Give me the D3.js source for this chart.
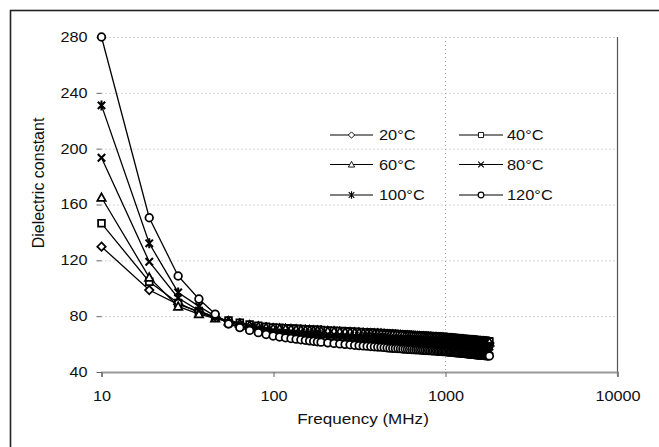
<!DOCTYPE html>
<html>
<head>
<meta charset="utf-8">
<script src="https://d3js.org/d3.v7.min.js"></script>
<style>
  body { margin: 0; background: #fff; }
  svg text { font-family: Arial, "Liberation Sans", sans-serif; fill: #111; }
</style>
</head>
<body>
<svg id="chart" width="659" height="447"></svg>
<script>
// frequency grid (MHz)
const freq = [10, 18.95, 27.9, 36.85, 45.8, 54.75, 63.7, 72.65, 81.6, 90.55,
  99.5, 108.45, 117.4, 126.35, 135.3, 144.25, 153.2, 162.15, 171.1, 180.05, 189,
  206.9, 224.8, 242.7, 260.6, 278.5, 296.4, 314.3, 332.2, 350.1, 368, 385.9, 403.8, 421.7, 439.6, 457.5,
  475.4, 493.3, 511.2, 529.1, 547, 564.9, 582.8, 600.7, 618.6, 636.5, 654.4, 672.3, 690.2, 708.1, 726,
  743.9, 761.8, 779.7, 797.6, 815.5, 833.4, 851.3, 869.2, 887.1, 905,
  922.9, 940.8, 958.7, 976.6, 994.5, 1012.4, 1030.3, 1048.2, 1066.1, 1084, 1101.9, 1119.8, 1137.7,
  1155.6, 1173.5, 1191.4, 1209.3, 1227.2, 1245.1, 1263, 1280.9, 1298.8, 1316.7, 1334.6, 1352.5,
  1370.4, 1388.3, 1406.2, 1424.1, 1442, 1459.9, 1477.8, 1495.7, 1513.6, 1531.5, 1549.4, 1567.3,
  1585.2, 1603.1, 1621, 1638.9, 1656.8, 1674.7, 1692.6, 1710.5, 1728.4, 1746.3, 1764.2, 1782.1, 1800];

const t20 = [129.8, 98.7, 88.5, 83.5, 79.5, 76.5, 74.8, 73.6, 72.7, 72.0,
  71.4, 71.2, 71.0, 70.8, 70.6, 70.4, 70.2, 70.1, 69.9, 69.8, 69.7,
  69.2, 69.0, 68.8, 68.6, 68.4, 68.2, 68.1, 67.9, 67.8, 67.6, 67.5, 67.4, 67.3, 67.1, 67.0,
  66.6, 66.5, 66.4, 66.3, 66.2, 66.0, 65.9, 65.8, 65.7, 65.6, 65.5, 65.4, 65.4, 65.3, 65.2,
  65.1, 65.0, 64.9, 64.9, 64.8, 64.7, 64.6, 64.6, 64.5, 64.4,
  64.1, 64.1, 64.0, 64.0, 63.9, 63.8, 63.7, 63.6, 63.5, 63.5, 63.4, 63.3, 63.2,
  63.1, 63.0, 63.0, 62.9, 62.8, 62.7, 62.7, 62.6, 62.5, 62.5, 62.4, 62.3,
  62.1, 62.0, 61.9, 61.9, 61.8, 61.7, 61.7, 61.6, 61.5, 61.5, 61.4, 61.4,
  61.3, 61.3, 61.2, 61.1, 61.1, 61.0, 61.0, 60.9, 60.9, 60.8, 60.8, 60.7, 60.7];

const t40 = [146.5, 104.7, 89.5, 82.5, 79.0, 76.8, 75.2, 74.0, 73.1, 72.4,
  71.8, 71.6, 71.4, 71.2, 71.0, 70.8, 70.6, 70.5, 70.3, 70.2, 70.1,
  69.8, 69.6, 69.4, 69.2, 69.0, 68.8, 68.7, 68.5, 68.4, 68.2, 68.1, 68.0, 67.9, 67.7, 67.6,
  67.4, 67.3, 67.2, 67.1, 67.0, 66.8, 66.7, 66.6, 66.5, 66.4, 66.3, 66.2, 66.2, 66.1, 66.0,
  65.9, 65.8, 65.7, 65.7, 65.6, 65.5, 65.4, 65.4, 65.3, 65.2,
  65.1, 65.1, 65.0, 65.0, 64.9, 64.8, 64.7, 64.6, 64.5, 64.5, 64.4, 64.3, 64.2,
  64.1, 64.0, 64.0, 63.9, 63.8, 63.7, 63.7, 63.6, 63.5, 63.5, 63.4, 63.3,
  63.3, 63.2, 63.1, 63.1, 63.0, 62.9, 62.9, 62.8, 62.7, 62.7, 62.6, 62.6,
  62.5, 62.5, 62.4, 62.3, 62.3, 62.2, 62.2, 62.1, 62.1, 62.0, 62.0, 61.9, 61.9];

const t60 = [165.0, 107.8, 87.0, 81.5, 78.5, 76.3, 74.7, 73.5, 72.6, 71.9,
  71.3, 71.1, 70.9, 70.7, 70.5, 70.3, 70.1, 70.0, 69.8, 69.7, 69.6,
  69.3, 69.1, 68.9, 68.7, 68.5, 68.3, 68.2, 68.0, 67.9, 67.7, 67.6, 67.5, 67.4, 67.2, 67.1,
  66.9, 66.8, 66.7, 66.6, 66.5, 66.3, 66.2, 66.1, 66.0, 65.9, 65.8, 65.7, 65.7, 65.6, 65.5,
  65.4, 65.3, 65.2, 65.2, 65.1, 65.0, 64.9, 64.9, 64.8, 64.7,
  64.6, 64.6, 64.5, 64.5, 64.4, 64.3, 64.2, 64.1, 64.0, 64.0, 63.9, 63.8, 63.7,
  63.6, 63.5, 63.5, 63.4, 63.3, 63.2, 63.2, 63.1, 63.0, 63.0, 62.9, 62.8,
  62.8, 62.7, 62.6, 62.6, 62.5, 62.4, 62.4, 62.3, 62.2, 62.2, 62.1, 62.1,
  62.0, 62.0, 61.9, 61.8, 61.8, 61.7, 61.7, 61.6, 61.6, 61.5, 61.5, 61.4, 61.4];

const t80 = [193.5, 119.0, 93.0, 84.0, 79.0, 75.5, 73.6, 72.2, 71.1, 70.2,
  69.5, 69.3, 69.0, 68.8, 68.6, 68.3, 68.1, 68.0, 67.7, 67.6, 67.5,
  67.0, 66.8, 66.6, 66.4, 66.2, 66.0, 65.9, 65.7, 65.6, 65.4, 65.3, 65.2, 65.1, 64.9, 64.8,
  64.3, 64.2, 64.1, 64.0, 63.9, 63.7, 63.6, 63.5, 63.4, 63.3, 63.2, 63.1, 63.1, 63.0, 62.9,
  62.8, 62.7, 62.6, 62.6, 62.5, 62.4, 62.3, 62.3, 62.2, 62.1,
  61.7, 61.7, 61.6, 61.6, 61.5, 61.4, 61.3, 61.2, 61.1, 61.1, 61.0, 60.9, 60.8,
  60.7, 60.6, 60.6, 60.5, 60.4, 60.3, 60.3, 60.2, 60.1, 60.1, 60.0, 59.9,
  59.7, 59.6, 59.5, 59.5, 59.4, 59.3, 59.3, 59.2, 59.1, 59.1, 59.0, 59.0,
  58.9, 58.9, 58.8, 58.7, 58.7, 58.6, 58.6, 58.5, 58.5, 58.4, 58.4, 58.3, 58.3];

const t100 = [231.0, 132.2, 97.0, 87.0, 80.0, 74.8, 72.6, 71.0, 69.7, 68.7,
  67.8, 67.5, 67.2, 66.9, 66.7, 66.4, 66.1, 66.0, 65.7, 65.6, 65.4,
  64.6, 64.4, 64.2, 64.0, 63.8, 63.6, 63.5, 63.3, 63.2, 63.0, 62.9, 62.8, 62.7, 62.5, 62.4,
  61.7, 61.6, 61.5, 61.4, 61.3, 61.1, 61.0, 60.9, 60.8, 60.7, 60.6, 60.5, 60.5, 60.4, 60.3,
  60.2, 60.1, 60.0, 60.0, 59.9, 59.8, 59.7, 59.7, 59.6, 59.5,
  59.1, 59.1, 59.0, 59.0, 58.9, 58.8, 58.7, 58.6, 58.5, 58.5, 58.4, 58.3, 58.2,
  58.1, 58.0, 58.0, 57.9, 57.8, 57.7, 57.7, 57.6, 57.5, 57.5, 57.4, 57.3,
  57.0, 56.9, 56.8, 56.8, 56.7, 56.6, 56.6, 56.5, 56.4, 56.4, 56.3, 56.3,
  56.2, 56.2, 56.1, 56.0, 56.0, 55.9, 55.9, 55.8, 55.8, 55.7, 55.7, 55.6, 55.6];

const t120 = [280.0, 150.5, 108.8, 92.3, 81.5, 74.5, 71.8, 69.8, 68.2, 66.9,
  65.8, 65.1, 64.5, 64.0, 63.5, 63.1, 62.7, 62.3, 62.0, 61.7, 61.4,
  60.9, 60.5, 60.1, 59.8, 59.5, 59.2, 58.9, 58.7, 58.5, 58.3, 58.1, 57.9, 57.8, 57.6, 57.4,
  57.1, 57.0, 56.9, 56.8, 56.7, 56.5, 56.4, 56.3, 56.2, 56.1, 56.0, 55.9, 55.9, 55.8, 55.7,
  55.6, 55.5, 55.4, 55.4, 55.3, 55.2, 55.1, 55.1, 55.0, 54.9,
  54.8, 54.8, 54.7, 54.7, 54.6, 54.5, 54.4, 54.3, 54.2, 54.2, 54.1, 54.0, 53.9,
  53.8, 53.7, 53.7, 53.6, 53.5, 53.4, 53.4, 53.3, 53.2, 53.2, 53.1, 53.0,
  52.9, 52.8, 52.7, 52.7, 52.6, 52.5, 52.5, 52.4, 52.3, 52.3, 52.2, 52.2,
  52.1, 52.1, 52.0, 51.9, 51.9, 51.8, 51.8, 51.7, 51.7, 51.6, 51.6, 51.5, 51.5];

const seriesNames = ["20°C", "40°C", "60°C", "80°C", "100°C", "120°C"];
const seriesMarkers = ["diamond", "square", "triangle", "cross", "star", "circle"];
const seriesValues = [t20, t40, t60, t80, t100, t120];

const xTicks = [10, 100, 1000, 10000];
const yTicks = [40, 80, 120, 160, 200, 240, 280];

seriesValues.forEach((v, k) => {
  if (v.length !== freq.length) console.error("length mismatch", seriesNames[k], v.length, freq.length);
});

const svg = d3.select("#chart");
const plotLeft = 101.5, plotRight = 617.5, plotTop = 37, plotBottom = 372;

const x = d3.scaleLog().domain([10, 10000]).range([plotLeft, plotRight]);
const y = d3.scaleLinear().domain([40, 280]).range([plotBottom, plotTop]);

// stretch text horizontally a bit (the original type is wide)
function stretch(sel, k) {
  sel.each(function() {
    const w = this.getComputedTextLength();
    this.setAttribute("textLength", w * k);
    this.setAttribute("lengthAdjust", "spacingAndGlyphs");
  });
}

// outer frame
svg.append("rect")
  .attr("x", 10.5).attr("y", 10.5)
  .attr("width", 700).attr("height", 500)
  .attr("fill", "none").attr("stroke", "#222").attr("stroke-width", 1.6);

// grid
svg.append("g").selectAll("line")
  .data(yTicks.filter(d => d > 40))
  .enter().append("line")
  .attr("x1", plotLeft).attr("x2", plotRight)
  .attr("y1", d => y(d) + 0.5).attr("y2", d => y(d) + 0.5)
  .attr("stroke", "#aaa").attr("stroke-dasharray", "1,3");

svg.append("g").selectAll("line")
  .data([1000])
  .enter().append("line")
  .attr("x1", d => x(d)).attr("x2", d => x(d))
  .attr("y1", plotTop).attr("y2", plotBottom)
  .attr("stroke", "#aaa").attr("stroke-dasharray", "1,3");

// right border of plot area
svg.append("line")
  .attr("x1", plotRight).attr("x2", plotRight)
  .attr("y1", plotTop).attr("y2", plotBottom + 4)
  .attr("stroke", "#555").attr("stroke-width", 1.2);

// x axis
const xAxis = svg.append("g")
  .attr("transform", `translate(0,${plotBottom})`)
  .call(d3.axisBottom(x).tickValues(xTicks).tickFormat(d3.format("d")).tickSize(5).tickPadding(14));
xAxis.select(".domain").attr("stroke", "#999").attr("stroke-width", 2);
xAxis.selectAll(".tick line").attr("stroke", "#666");
xAxis.selectAll("text").attr("font-size", 14).attr("fill", "#111").call(stretch, 1.16);

// y axis
const yAxis = svg.append("g")
  .attr("transform", `translate(${plotLeft},0)`)
  .call(d3.axisLeft(y).tickValues(yTicks).tickSize(5).tickPadding(9));
yAxis.select(".domain").remove();
yAxis.selectAll(".tick line").attr("stroke", "#666");
yAxis.selectAll("text").attr("font-size", 14).attr("fill", "#111").call(stretch, 1.16);

// axis titles
svg.append("text")
  .attr("x", 363).attr("y", 424)
  .attr("text-anchor", "middle").attr("font-size", 15.5)
  .text("Frequency (MHz)").call(stretch, 1.1);

svg.append("text")
  .attr("transform", "translate(44,183) rotate(-90)")
  .attr("text-anchor", "middle").attr("font-size", 16)
  .text("Dielectric constant");

function markerPath(type) {
  switch (type) {
    case "diamond": return "M0,-4.2L4.2,0L0,4.2L-4.2,0Z";
    case "square": return "M-3.4,-3.4H3.4V3.4H-3.4Z";
    case "triangle": return "M0,-4.2L4.2,3.4L-4.2,3.4Z";
    case "cross": return "M-3.7,-3.7L3.7,3.7M3.7,-3.7L-3.7,3.7";
    case "star": return "M-3.7,-3.7L3.7,3.7M3.7,-3.7L-3.7,3.7M0,-5L0,5";
    default: return null;
  }
}

function drawMarker(g, type, scale, sw) {
  if (type === "circle") {
    g.append("circle").attr("r", 3.8 * scale)
      .attr("fill", "#fff").attr("stroke", "#000").attr("stroke-width", sw);
  } else {
    const open = type === "cross" || type === "star";
    g.append("path").attr("d", markerPath(type))
      .attr("transform", `scale(${scale})`)
      .attr("fill", open ? "none" : "#fff")
      .attr("stroke", "#000").attr("stroke-width", open ? sw + 0.3 : sw);
  }
}

const line = d3.line().x(d => x(d[0])).y(d => y(d[1]));

seriesValues.forEach((vals, k) => {
  const pts = freq.map((f, i) => [f, vals[i]]);
  const g = svg.append("g");
  g.append("path")
    .datum(pts)
    .attr("d", line)
    .attr("fill", "none")
    .attr("stroke", "#000")
    .attr("stroke-width", 1.3);
  g.selectAll("g.m")
    .data(pts)
    .enter().append("g")
    .attr("class", "m")
    .attr("transform", d => `translate(${x(d[0])},${y(d[1])})`)
    .each(function() { drawMarker(d3.select(this), seriesMarkers[k], 1, 1.75); });
});

// legend
const legRows = [135, 164.5, 195];
const legCols = [{ x0: 330, x1: 373, tx: 379 }, { x0: 459, x1: 503, tx: 507 }];
const legend = svg.append("g");
seriesNames.forEach((name, k) => {
  const col = legCols[k % 2], ry = legRows[Math.floor(k / 2)];
  legend.append("line")
    .attr("x1", col.x0).attr("x2", col.x1)
    .attr("y1", ry).attr("y2", ry)
    .attr("stroke", "#000").attr("stroke-width", 1.1);
  const mg = legend.append("g").attr("transform", `translate(${(col.x0 + col.x1) / 2},${ry})`);
  drawMarker(mg, seriesMarkers[k], 0.75, 1.2);
  legend.append("text")
    .attr("x", col.tx).attr("y", ry)
    .attr("dy", "0.36em")
    .attr("font-size", 14.5)
    .text(name)
    .call(stretch, 1.13);
});
</script>
</body>
</html>
